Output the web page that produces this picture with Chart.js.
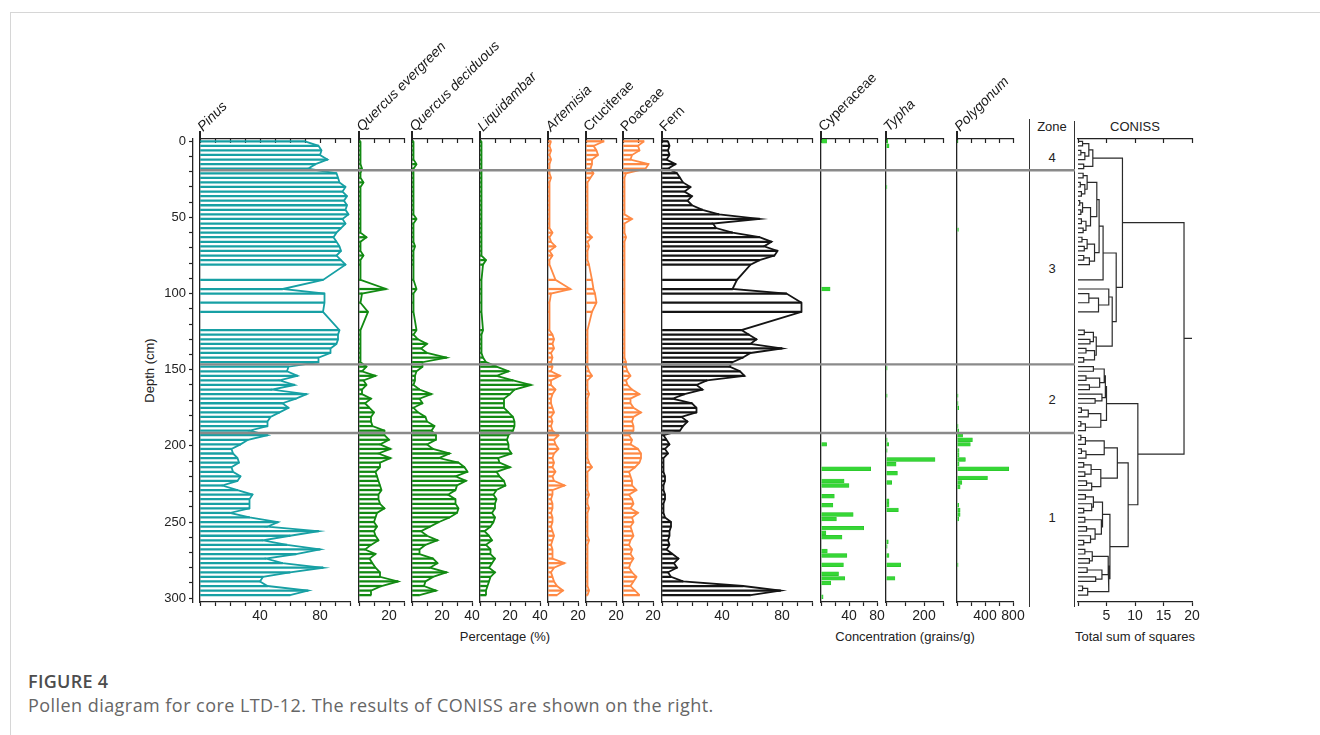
<!DOCTYPE html>
<html>
<head>
<meta charset="utf-8">
<script src="https://cdn.jsdelivr.net/npm/chart.js@4.4.1/dist/chart.umd.min.js"></script>
<style>
html,body{margin:0;padding:0;background:#fff;}
#page{position:relative;width:1320px;height:735px;overflow:hidden;font-family:'Liberation Sans',Arial,sans-serif;color:#222;}
canvas{position:absolute;}
.hdr{position:absolute;white-space:nowrap;font-size:14px;line-height:16px;height:16px;transform-origin:0 100%;transform:rotate(-45deg);color:#1a1a1a;}
.it{font-style:italic;}
.lbl{position:absolute;font-size:13px;line-height:15px;white-space:nowrap;text-align:center;}
.vline{position:absolute;width:1px;background:#333;}
.stub{position:absolute;width:1.3px;height:9px;top:131px;background:#222;}
#frameTop{position:absolute;left:10px;top:12px;width:1310px;height:1px;background:#d6d6d6;}
#frameLeft{position:absolute;left:10px;top:12px;width:1px;height:723px;background:#d6d6d6;}
#figT{position:absolute;left:28px;top:670px;font-family:'Open Sans','Noto Sans',sans-serif;font-size:18px;letter-spacing:0.3px;font-weight:600;color:#4d4d4d;line-height:22px;}
#figC{position:absolute;left:28px;top:694px;font-family:'Open Sans','Noto Sans',sans-serif;font-size:18px;letter-spacing:0.45px;color:#666;line-height:22px;white-space:nowrap;}
</style>
</head>
<body>
<div id="page">
  <div id="frameTop"></div><div id="frameLeft"></div>
  <div class="vline" style="left:1029px;top:119px;height:488px;"></div>
  <div class="vline" style="left:1074px;top:121px;height:486px;"></div>
  <div class="lbl" style="left:1022px;top:119px;width:60px;">Zone</div>
  <div class="lbl" style="left:1095px;top:119px;width:80px;">CONISS</div>
  <div class="lbl" style="left:1042px;top:150px;width:20px;">4</div>
  <div class="lbl" style="left:1042px;top:261px;width:20px;">3</div>
  <div class="lbl" style="left:1042px;top:392px;width:20px;">2</div>
  <div class="lbl" style="left:1042px;top:510px;width:20px;">1</div>
  <div class="lbl" style="left:104px;top:363px;width:90px;transform:rotate(-90deg);">Depth (cm)</div>
  <div class="lbl" style="left:425px;top:629px;width:160px;">Percentage (%)</div>
  <div class="lbl" style="left:815px;top:629px;width:180px;">Concentration (grains/g)</div>
  <div class="lbl" style="left:1055px;top:629px;width:160px;">Total sum of squares</div>
  <div id="figT">FIGURE 4</div>
  <div id="figC">Pollen diagram for core LTD-12. The results of CONISS are shown on the right.</div>
</div>
<script>
// ---------------- DATA ----------------
const DEPTHS = [0,3,6,9,12,15,18,
  21,24,27,30,33,36,39,42,45,48,51,54,57,60,63,66,69,72,75,78,81,
  91,97,100,106,112,
  124,127,130,133,136,139,142,145,
  148,151,154,157,160,163,166,169,172,175,178,181,184,187,190,
  193,196,199,202,205,208,211,214,217,220,223,226,229,232,235,238,241,244,247,250,253,256,259,262,265,268,271,274,277,280,283,286,289,292,295,298];

const PINUS = [70,79,81,80,85,77,72,
  91,92,93,97,95,98,96,98,97,99,95,97,94,91,89,91,93,94,91,94,97,
  82,55,83,83,82,
  93,92,92,91,87,87,79,79,
  59,58,65,53,63,48,71,64,55,59,53,47,45,45,33,
  45,32,27,21,22,25,26,21,22,27,25,15,25,35,33,33,33,20,33,52,45,79,60,42,58,80,64,44,55,82,60,42,40,45,72,60];

const Q_EVERGREEN = [1,1,1,1,1,1,2,
  1,1,3,1,1,1,1,1,1,1,1,1,1,1,5,1,1,1,3,1,1,
  1,18,2,1,6,
  1,1,1,1,1,1,1,1,
  5,2,11,3,5,2,2,8,4,7,10,8,8,9,17,
  17,20,14,21,13,21,14,14,11,12,13,14,15,13,13,14,17,12,11,10,12,10,11,13,8,4,11,7,9,11,14,14,26,15,8,8];

const Q_DECIDUOUS = [1,1,1,1,1,3,1,
  1,1,1,1,1,1,1,1,1,1,3,1,1,1,1,1,2,1,1,1,1,
  1,3,1,1,1,
  3,1,4,10,6,10,23,7,
  7,3,2,2,1,5,13,5,7,1,4,9,10,15,13,
  16,16,10,14,25,18,31,35,37,29,36,30,29,24,29,29,31,30,25,18,12,6,10,17,9,5,5,14,17,12,23,14,9,8,16,5];

const LIQUIDAMBAR = [1,1,1,1,1,1,1,
  1,1,1,1,1,1,1,1,1,1,1,1,1,1,1,1,1,1,1,4,2,
  1,1,1,1,1,
  2,1,1,1,1,1,2,4,
  11,19,11,22,34,23,20,16,16,16,19,22,23,23,22,
  19,18,19,19,21,12,13,20,11,13,16,17,11,9,11,10,10,8,10,9,7,3,6,8,4,7,7,10,8,6,10,7,6,5,4,4];

const ARTEMISIA = [2,1,2,1,2,1,1,
  1,2,1,1,1,1,1,1,1,1,1,1,1,3,1,2,5,1,3,1,1,
  5,15,2,1,1,
  1,3,4,3,4,2,3,2,
  3,2,8,2,2,5,3,2,2,3,4,2,3,2,3,
  7,4,5,7,4,3,4,3,5,3,4,11,3,3,2,3,3,2,3,3,2,3,4,3,2,3,3,3,11,4,2,3,4,6,10,6];

const CRUCIFERAE = [12,5,7,8,4,4,3,
  5,3,1,1,1,1,1,1,1,1,1,1,1,1,4,1,2,1,1,1,2,
  4,5,6,7,4,
  1,1,1,1,1,1,1,1,
  1,2,4,1,1,1,2,1,1,1,1,1,1,1,1,
  1,1,1,1,1,1,2,4,1,1,1,1,1,2,1,1,2,1,1,1,1,1,1,2,1,1,1,1,1,1,1,1,1,1,2,1];

const POACEAE = [14,10,11,6,5,17,15,
  2,1,1,1,1,1,1,1,1,1,6,1,1,1,2,1,1,1,1,1,1,
  1,1,1,1,1,
  1,1,1,1,1,1,1,2,
  2,3,5,2,3,6,11,5,5,7,12,7,6,7,7,
  4,6,5,10,12,12,11,8,4,5,6,6,9,4,6,7,5,10,6,7,5,6,7,5,4,6,5,7,5,4,6,9,7,5,8,11];

const FERN = [4,5,4,5,3,9,4,
  10,12,14,19,15,20,17,20,27,38,65,34,36,47,65,73,68,77,75,65,59,
  50,47,83,93,93,
  53,58,63,59,80,59,54,47,
  45,52,55,30,23,27,15,7,20,23,23,13,17,14,12,
  1,3,5,2,4,1,1,1,1,2,2,1,1,2,2,1,1,1,2,6,6,5,5,4,5,3,7,11,8,10,4,6,14,54,79,59];

// concentration records (depth cm, grains/g)
const CYP_DEPTH = [0,97,199,215,223,226,233,239,245,248,254,257,260,269,272,278,284,287,290,299];
const CYP_VALUE = [8,13,8,71,33,40,19,17,46,22,61,7,30,9,37,32,25,34,14,3];
const TYPHA_DEPTH = [0,3,30,149,167,196,199,203,209,212,218,224,236,239,242,263,266,272,278,287];
const TYPHA_VALUE = [9,16,5,6,6,6,14,6,258,53,60,30,16,16,65,12,6,16,77,47];
const POLY_DEPTH = [0,58,167,172,175,187,190,193,196,199,203,206,209,212,215,221,224,227,239,242,245,248,278];
const POLY_VALUE = [5,20,15,15,25,15,25,80,220,190,30,30,120,30,740,435,70,45,25,45,45,25,15];

// zone boundaries (cm)
const ZONE_BOUNDS = [19, 146.5, 191.5];

// CONISS tree: [height, childA, childB]; numbers are sample indices into DEPTHS
const Z4 = [2.6,[1.9,[0.8,0,1],[1.2,[0.5,2,3],4]],[1.0,5,6]];
const A1 = [3.7,[3.3,[1.6,[0.9,7,8],[1.2,[0.4,9,10],[0.6,11,12]]],[2.2,[0.8,[0.3,13,14],[0.5,15,16]],[1.4,[0.6,17,18],[0.9,19,20]]]],
  [2.9,[1.6,[0.7,21,22],[1.1,23,24]],[2.0,[1.0,25,26],27]]];
const C3 = [6.7,[4.4,A1,28],[6.0,[5.4,29,[3.6,[1.9,30,31],32]],[3.2,[2.7,[1.1,33,34],[2.1,35,36]],[2.9,[1.4,37,38],[1.0,39,40]]]]];
const Z2 = [5.0,[4.8,[4.6,[2.7,41,42],[3.8,[1.4,43,44],[2.0,45,46]]],[4.2,47,[3.0,48,49]]],[4.0,[1.8,[0.6,50,51],52],[1.3,[0.5,53,54],55]]];
const Z1 = [8.8,
  [6.9,[4.6,[1.3,[0.5,56,57],58],[1.4,[0.6,59,60],61]],[4.0,[2.3,[1.0,62,63],[1.2,64,65]],[2.4,[1.5,66,67],68]]],
  [5.6,[4.3,[2.7,[1.3,69,70],[2.4,71,[1.0,72,73]]],[4.1,[1.2,74,75],[3.0,[1.5,76,77],[2.2,78,[1.0,79,80]]]]],
       [5.4,[5.3,[2.5,[1.2,81,82],[2.0,83,84]],[4.2,[1.6,85,86],[3.1,87,88]]],[1.7,[0.8,89,90],91]]]];
const CONISS_TREE = [18.6,[7.8,Z4,C3],[10.5,Z2,Z1]];

// ---------------- LAYOUT / STYLE ----------------
const TEAL = '#17a0a4', GREEN = '#128a12', ORANGE = '#ff8a45', BLACK = '#141414', LIME = '#36d636';
const Y_MIN = -1.5, Y_MAX = 302.5;
const TOP = 110, H = 520, PAD_TOP = 29, AXIS_H = 28, SIDE = 16;
const AX = '#222';

Chart.defaults.font.family = "'Liberation Sans', Arial, sans-serif";
Chart.defaults.font.size = 13;
Chart.defaults.color = AX;

const page = document.getElementById('page');
function addCanvas(left, top, w, h) {
  const c = document.createElement('canvas');
  c.width = w; c.height = h;
  c.style.left = left + 'px'; c.style.top = top + 'px';
  c.style.width = w + 'px'; c.style.height = h + 'px';
  page.appendChild(c);
  return c;
}
function addHeader(text, x, italic) {
  const d = document.createElement('div');
  d.className = 'hdr' + (italic ? ' it' : '');
  d.textContent = text;
  d.style.left = (x + 5) + 'px';
  d.style.top = (134 - 16) + 'px';
  page.appendChild(d);
  const s = document.createElement('div');
  s.className = 'stub';
  s.style.left = (x - 0.6) + 'px';
  page.appendChild(s);
}

function pollenSets(vals, color) {
  return [
    {type:'line', data: DEPTHS.map((d,i)=>({x: vals[i], y: d})), borderColor: color, borderWidth: 1.8,
     pointRadius: 0, fill: false, tension: 0, clip: 6, order: 0},
    {type:'bar', data: DEPTHS.map((d,i)=>({x: vals[i], y: d})), backgroundColor: color, barThickness: 1.6,
     borderWidth: 0, clip: 6, order: 1}
  ];
}
function concSets(depths, vals) {
  return [{type:'bar', data: depths.map((d,i)=>({x: vals[i], y: d})), backgroundColor: LIME,
    borderColor: '#25c025', borderWidth: 0.5, barThickness: 3.8, clip: 4}];
}

function xAxes(p) {
  return {
    x: {type:'linear', position:'bottom', min:p.min, max:p.max, offset:false,
        grid:{drawOnChartArea:false, tickLength:4, color:AX, offset:false, tickWidth:1.2},
        border:{color:AX, width:1.3},
        ticks:{stepSize:p.step, autoSkip:false, maxRotation:0, padding:2, color:AX, font:{size:14},
               callback: v => p.labels.includes(v) ? String(v) : ''},
        afterFit: s => { s.height = AXIS_H; }},
    x2: {type:'linear', position:'top', min:p.min, max:p.max, offset:false,
        grid:{drawOnChartArea:false, tickLength:-4, color:AX, tickWidth:1.2},
        border:{color:AX, width:1.3},
        ticks:{stepSize:p.step, autoSkip:false, maxRotation:0, callback: () => ''},
        afterFit: s => { s.height = 0; }}
  };
}

function makePanel(p) {
  const w = p.x1 - p.x0 + 2*SIDE;
  const cv = addCanvas(p.x0 - SIDE, TOP, w, H);
  const scales = xAxes(p);
  scales.y = {type:'linear', position:'left', reverse:true, min:Y_MIN, max:Y_MAX, offset:false,
      grid:{display:false, drawOnChartArea:false, drawTicks:false, offset:false},
      ticks:{display:false}, border:{display:true, color:AX, width:1.3},
      afterFit: s => { s.width = 0; }};
  new Chart(cv, {
    type:'bar',
    data:{datasets: p.sets},
    options:{responsive:false, animation:false, events:[], indexAxis:'y',
      layout:{padding:{left:SIDE, right:SIDE, top:PAD_TOP, bottom:0}},
      plugins:{legend:{display:false}, tooltip:{enabled:false}},
      scales}
  });
  if (p.name) addHeader(p.name, p.x0, p.italic);
}

const PANELS = [
  {name:'Pinus', italic:true, x0:200, x1:350, min:0, max:100, step:10, labels:[40,80], sets:pollenSets(PINUS, TEAL)},
  {name:'Quercus evergreen', italic:true, x0:359, x1:404, min:0, max:30, step:10, labels:[20], sets:pollenSets(Q_EVERGREEN, GREEN)},
  {name:'Quercus deciduous', italic:true, x0:412, x1:472, min:0, max:40, step:10, labels:[20,40], sets:pollenSets(Q_DECIDUOUS, GREEN)},
  {name:'Liquidambar', italic:true, x0:480, x1:540, min:0, max:40, step:10, labels:[20,40], sets:pollenSets(LIQUIDAMBAR, GREEN)},
  {name:'Artemisia', italic:true, x0:548, x1:578, min:0, max:20, step:10, labels:[20], sets:pollenSets(ARTEMISIA, ORANGE)},
  {name:'Cruciferae', italic:false, x0:586, x1:616, min:0, max:20, step:10, labels:[20], sets:pollenSets(CRUCIFERAE, ORANGE)},
  {name:'Poaceae', italic:false, x0:623, x1:653, min:0, max:20, step:10, labels:[20], sets:pollenSets(POACEAE, ORANGE)},
  {name:'Fern', italic:false, x0:662, x1:812, min:0, max:100, step:10, labels:[40,80], sets:pollenSets(FERN, BLACK)},
  {name:'Cyperaceae', italic:false, x0:821, x1:877, min:0, max:80, step:20, labels:[40,80], sets:concSets(CYP_DEPTH, CYP_VALUE)},
  {name:'Typha', italic:true, x0:886, x1:943, min:0, max:300, step:100, labels:[200], sets:concSets(TYPHA_DEPTH, TYPHA_VALUE)},
  {name:'Polygonum', italic:true, x0:957, x1:1013, min:0, max:800, step:200, labels:[400,800], sets:concSets(POLY_DEPTH, POLY_VALUE)}
];
PANELS.forEach(makePanel);

// ---- depth axis ----
(function(){
  const left = 100, w = 100;
  const cv = addCanvas(left, TOP, w, H);
  new Chart(cv, {
    type:'scatter', data:{datasets:[]},
    options:{responsive:false, animation:false, events:[],
      layout:{padding:{left:0, right:2, top:PAD_TOP, bottom:H - PAD_TOP - (602-139)}},
      plugins:{legend:{display:false}, tooltip:{enabled:false}},
      scales:{
        x:{display:false, min:0, max:1},
        y:{type:'linear', position:'left', reverse:true, min:Y_MIN, max:Y_MAX,
           grid:{drawOnChartArea:false, tickLength:4, color:AX, tickWidth:1.2},
           border:{color:AX, width:1.3},
           ticks:{stepSize:10, includeBounds:false, autoSkip:false, padding:3, color:AX, font:{size:13},
                  callback: v => (v % 50 === 0) ? String(v) : ''},
           afterFit: s => { s.width = 193 - left; }}
      }}
  });
})();

// ---- CONISS dendrogram ----
(function(){
  const p = {x0:1078, x1:1192, min:0, max:20, step:5, labels:[5,10,15,20]};
  const segs = [];
  function walk(node) {
    if (typeof node === 'number') return {y: DEPTHS[node], h: 0};
    const a = walk(node[1]), b = walk(node[2]);
    segs.push({x:a.h, y:a.y}, {x:node[0], y:a.y}, {x:node[0], y:b.y}, {x:b.h, y:b.y}, {x:null, y:null});
    return {y:(a.y + b.y)/2, h:node[0]};
  }
  const r = walk(CONISS_TREE);
  segs.push({x:r.h, y:r.y}, {x:p.max, y:r.y});
  const cv = addCanvas(p.x0 - SIDE, TOP, p.x1 - p.x0 + 2*SIDE, H);
  const scales = xAxes(p);
  scales.y = {type:'linear', display:false, reverse:true, min:Y_MIN, max:Y_MAX};
  new Chart(cv, {
    type:'scatter',
    data:{datasets:[{type:'line', data:segs, borderColor:'#2a2a2a', borderWidth:1.2, pointRadius:0,
                     fill:false, tension:0, spanGaps:false, clip:4}]},
    options:{responsive:false, animation:false, events:[],
      layout:{padding:{left:SIDE, right:SIDE, top:PAD_TOP, bottom:0}},
      plugins:{legend:{display:false}, tooltip:{enabled:false}},
      scales}
  });
})();

// ---- zone boundary lines ----
(function(){
  const x0 = 200, x1 = 1075, pad = 10;
  const cv = addCanvas(x0 - pad, TOP, x1 - x0 + 2*pad, H);
  const pts = [];
  ZONE_BOUNDS.forEach(d => { pts.push({x:0, y:d}, {x:1, y:d}, {x:null, y:null}); });
  new Chart(cv, {
    type:'scatter',
    data:{datasets:[{type:'line', data:pts, borderColor:'#8a8a8a', borderWidth:2.4, pointRadius:0, fill:false, spanGaps:false, clip:2}]},
    options:{responsive:false, animation:false, events:[],
      layout:{padding:{left:pad, right:pad, top:PAD_TOP, bottom:H - PAD_TOP - (602-139)}},
      plugins:{legend:{display:false}, tooltip:{enabled:false}},
      scales:{x:{display:false, min:0, max:1}, y:{display:false, reverse:true, min:Y_MIN, max:Y_MAX}}}
  });
})();
</script>
</body>
</html>
